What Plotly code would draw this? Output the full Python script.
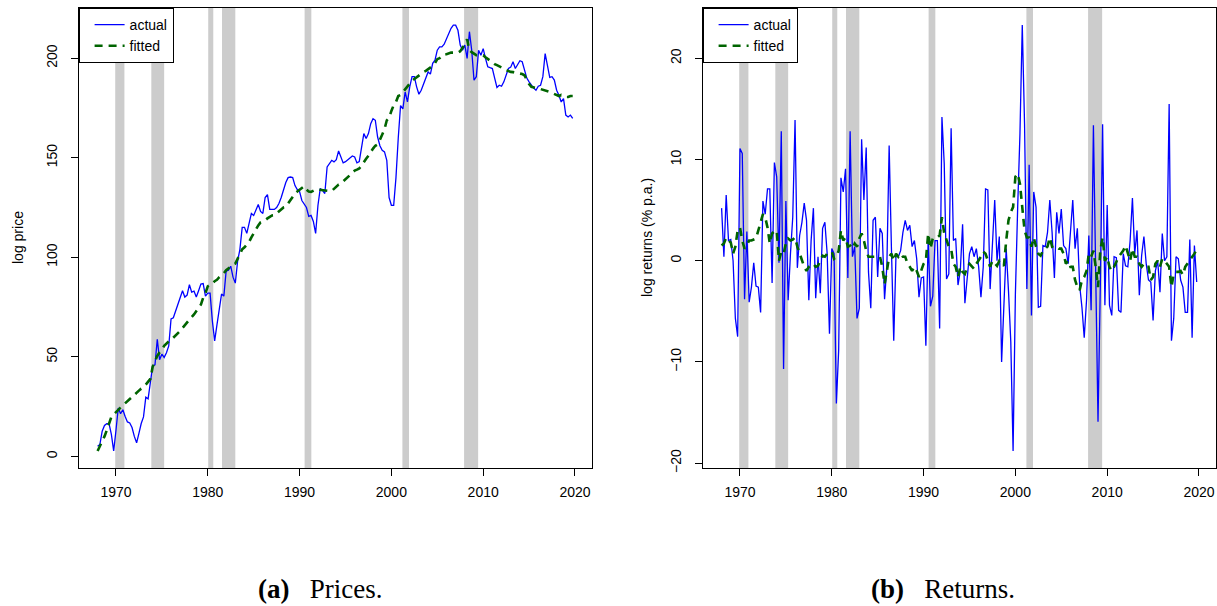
import numpy as np
import plotly.graph_objects as go

# ---------------- data ----------------
start_year = 1968.0
price_actual = [
    5.1, 6.0, 12.6, 15.5,        # 1968
    16.4, 16.3, 11.0, 2.7,       # 1969
    13.0, 24.3, 21.4, 23.4,      # 1970
    20.0, 17.3, 16.8, 14.5,      # 1971
    10.0, 6.8, 11.5, 16.5,       # 1972
    19.8, 29.7, 28.9, 36.4,      # 1973
    45.5, 46.0, 58.8, 48.5,      # 1974
    51.3, 49.7, 52.0, 55.5,      # 1975
    69.0, 69.6, 72.9, 76.0,      # 1976
    79.6, 83.2, 80.0, 81.0,      # 1977
    86.2, 82.5, 83.0, 80.0,      # 1978
    83.2, 86.5, 86.8, 80.5,      # 1979
    82.0, 82.0, 68.0, 58.0,      # 1980
    66.0, 73.0, 81.5, 80.5,      # 1981
    93.0, 93.5, 95.5, 90.0,      # 1982
    87.0, 98.0, 104.0, 115.0,    # 1983
    115.0, 112.0, 117.0, 122.0,  # 1984
    121.0, 124.0, 126.5, 123.0,  # 1985
    122.0, 130.0, 131.5, 124.0,  # 1986
    124.0, 124.0, 125.0, 127.0,  # 1987
    130.0, 134.0, 137.5, 140.0,  # 1988
    140.3, 140.0, 136.0, 134.0,  # 1989
    133.0, 128.5, 127.0, 125.0,  # 1990
    120.5, 121.0, 118.0, 112.0,  # 1991
    126.0, 134.5, 133.6, 132.0,  # 1992
    145.4, 147.0, 148.7, 147.9,  # 1993
    149.0, 153.4, 150.0, 147.4,  # 1994
    148.0, 149.0, 150.0, 150.9,  # 1995
    150.4, 147.4, 148.0, 155.0,  # 1996
    162.1, 159.6, 162.1, 167.1,  # 1997
    169.6, 168.8, 160.4, 156.0,  # 1998
    153.7, 152.9, 148.7, 130.0,  # 1999
    126.1, 126.1, 140.0, 160.0,  # 2000
    176.2, 174.5, 183.0, 178.0,  # 2001
    185.6, 190.7, 190.7, 185.6,  # 2002
    181.9, 183.9, 187.0, 190.0,  # 2003
    193.1, 192.0, 197.4, 199.0,  # 2004
    204.0, 205.7, 205.7, 207.0,  # 2005
    209.9, 212.4, 215.0, 216.6,  # 2006
    216.6, 214.0, 206.6, 204.0,  # 2007
    206.6, 199.9, 213.3, 204.0,  # 2008
    188.9, 190.7, 204.0, 201.5,  # 2009
    204.8, 199.9, 195.7, 195.2,  # 2010
    194.8, 190.0, 185.3, 186.4,  # 2011
    185.9, 188.1, 191.0, 194.8,  # 2012
    195.5, 198.2, 194.8, 196.5,  # 2013
    198.7, 198.2, 194.0, 190.0,  # 2014
    188.1, 186.4, 185.0, 183.9,  # 2015
    185.9, 186.4, 190.7, 202.3,  # 2016
    195.7, 190.3, 190.7, 189.0,  # 2017
    183.9, 181.4, 178.0, 179.7,  # 2018
    171.4, 170.5, 171.4, 169.7,  # 2019
]
price_fitted = [
    2.7, 5.0, 7.3, 10.0,
    13.1, 16.5, 19.8, 21.0,
    22.3, 23.4, 24.5, 25.6,
    26.7, 27.8, 28.9, 30.0,
    31.3, 32.2, 33.0, 34.0,
    34.7, 36.0, 37.5, 38.9,
    45.0, 48.0, 50.5, 52.2,
    53.5, 55.5, 56.8, 57.7,
    58.5, 59.6, 60.5, 62.0,
    63.0, 64.5, 66.0, 67.3,
    68.5, 70.0, 71.3, 73.0,
    74.8, 76.2, 79.6, 82.0,
    85.4, 86.0, 86.7, 88.0,
    88.7, 90.0, 91.0, 92.0,
    93.5, 94.5, 95.5, 96.2,
    96.8, 99.0, 102.0, 104.0,
    105.0, 106.5, 107.7, 110.0,
    112.0, 114.4, 116.0, 117.5,
    118.0, 118.6, 119.5, 120.3,
    121.0, 121.1, 122.0, 123.0,
    124.0, 125.0, 125.3, 127.0,
    129.0, 130.5, 132.0, 133.0,
    134.0, 134.5, 135.7, 134.0,
    133.0, 132.8, 133.5, 134.0,
    134.0, 133.8, 133.6, 133.5,
    133.3, 133.3, 133.3, 134.5,
    135.5, 136.5, 137.0, 138.0,
    139.0, 140.0, 141.2, 142.5,
    143.5, 144.0, 144.6, 146.0,
    148.0, 149.5, 151.0, 153.0,
    154.6, 156.0, 156.7, 159.0,
    162.1, 164.3, 168.8, 170.0,
    173.5, 176.4, 178.0, 181.0,
    181.5, 183.0, 184.4, 186.0,
    187.5, 188.6, 189.5, 190.5,
    191.1, 192.0, 193.0, 193.6,
    194.5, 195.5, 196.1, 197.5,
    199.5, 200.0, 201.0, 202.0,
    202.0, 202.5, 202.8, 202.8,
    202.8, 202.8, 203.5, 205.0,
    207.0, 209.5, 204.0, 203.0,
    202.0, 201.5, 201.5, 201.5,
    201.5, 200.5, 199.5, 199.0,
    198.0, 197.0, 196.5, 196.0,
    195.5, 194.8, 194.0, 193.5,
    193.1, 193.0, 192.8, 192.5,
    192.3, 192.0, 191.4, 189.0,
    187.0, 185.6, 185.2, 185.0,
    184.7, 184.5, 184.2, 183.9,
    183.5, 183.0, 182.5, 182.0,
    181.5, 181.0, 181.5, 181.0,
    180.5, 180.5, 181.0, 181.0,
]
ret_actual = [
    5.2, 0.4, 6.5, 2.0,
    2.1, 0.0, -5.7, -7.5,
    11.1, 10.6, -3.8, 2.9,
    -4.1, -2.6, -0.2, -2.5,
    -2.6, -5.1, 5.9, 4.6,
    7.1, 7.1, -2.2, 9.7,
    8.3, -0.2, 12.8, -10.7,
    5.9, -3.9, 0.7, 4.3,
    13.9, -0.7, 2.5, 3.8,
    5.7, 4.0, -3.9, 2.0,
    5.2, -3.7, 0.4, -3.2,
    3.2, 3.8, 0.7, -7.2,
    1.2, 0.7, -14.1, -8.9,
    8.2, 6.8, 9.1, -1.7,
    12.8, 0.4, 1.4, -5.7,
    -4.7, 12.0, 6.0, 11.2,
    -1.1, -4.7, 4.0, 4.3,
    -1.6, 3.2, 2.7, -3.8,
    -0.6, 11.4, 1.2, -7.9,
    0.7, 0.4, 1.0, 2.8,
    4.0, 3.0, 3.5, 1.4,
    2.0, 0.2, -3.6, -1.7,
    -1.6, -8.4, 2.2, -4.5,
    -3.5, 2.0, 2.0, -6.7,
    14.2, 9.6, -1.8, -1.3,
    13.1, 2.0, 2.2, -2.4,
    -1.0, 3.6, -4.2, -1.9,
    0.7, 1.4, 0.4, 1.2,
    -0.6, -3.6, -0.6, 7.1,
    7.0, -2.8, 2.0, 6.0,
    0.0, 2.4, -10.0, -3.3,
    1.2, -3.0, -8.0, -18.8,
    -3.3, 5.3, 12.6, 23.3,
    13.5, -2.8, 9.5, -5.4,
    6.8, 5.3, -4.6, -4.5,
    1.5, 1.4, 2.8, 6.0,
    2.8, -1.7, 4.8, 2.7,
    5.1, 1.5, 1.2, -0.3,
    2.7, 6.0, 1.2, 3.2,
    -2.4, -4.6, -7.6, -3.9,
    2.5, -4.9, 13.4, -2.6,
    -15.9, -2.6, 13.5, -4.4,
    5.5, -4.4, -5.4, 0.4,
    0.3, -4.9, -5.1, 0.7,
    -0.5, -0.6, 2.0, 6.2,
    0.7, 3.0, -3.4, 0.5,
    2.4, -0.3, -1.9, -2.1,
    -5.9, -1.0, 0.0, -3.1,
    2.7, 0.0, 0.4, 15.5,
    -7.9, -5.7, 0.4, 0.2,
    -1.9, -2.6, -5.1, -5.1,
    2.1, -7.6, 1.5, -2.1,
]
ret_fitted = [
    1.5, 1.7, 2.3, 2.0,
    1.8, 0.7, 1.4, 3.0,
    3.3, 2.0, 1.2, 1.5,
    2.0, 2.0, 2.1, 2.2,
    3.0, 3.8, 4.6, 4.3,
    3.3, 1.7, 2.7, 2.9,
    3.0, 0.0, 0.9, 0.7,
    1.7, 2.2, 2.0, 2.1,
    2.3, 1.4, 0.7, 0.0,
    -0.6, -1.0, -0.6, -0.4,
    -0.3, -0.6, -0.5, 0.0,
    0.5, 0.4, 0.7, 0.8,
    0.9, 0.2, 0.4, 1.0,
    3.0, 2.0, 2.3, 1.4,
    1.5, 1.2, 1.7, 1.4,
    2.2, 2.7, 2.0, 1.0,
    0.4, 0.4, 0.4, 0.4,
    0.4, 0.4, -0.6, -2.3,
    -1.0, 0.4, 0.7, 0.0,
    0.7, 0.4, 0.7, 0.4,
    0.4, -0.3, -0.6, -1.0,
    -0.6, -1.0, -1.6, -1.0,
    -0.3, 0.0, 2.7, 1.2,
    2.2, 2.3, 2.3, 2.5,
    4.3, 2.7, 2.0, 1.4,
    1.2, -0.3, -0.6, -1.6,
    -0.6, -1.1, -1.3, -0.6,
    -0.3, -0.6, -0.8, -0.3,
    0.0, 0.4, 0.9, 0.7,
    0.0, -0.6, 0.0, -0.3,
    -0.5, 0.0, -0.3, -0.5,
    2.0, 4.0, 4.8, 5.3,
    8.3, 8.6, 7.6, 5.3,
    3.0, 2.3, 2.3, 1.4,
    2.3, 1.4, 0.7, 0.5,
    1.0, 1.2, 1.4, 2.3,
    1.4, 1.5, 1.4, 1.2,
    1.2, 0.7, -0.3, 0.0,
    -0.6, -0.6, -1.9, -2.6,
    -2.9, -1.9, -1.6, -1.0,
    0.7, 0.4, 1.0, -0.6,
    -2.6, 1.0, 2.3, 0.0,
    0.4, -0.6, -1.0, -0.6,
    0.0, 0.4, 0.7, 1.0,
    1.5, 0.7, 0.0, 1.2,
    0.4, 0.4, -0.3, -0.6,
    -0.3, -0.6, -0.6, -1.9,
    -1.6, -0.3, 0.0, -0.6,
    0.2, 0.0, -0.3, -0.6,
    -2.6, -1.3, -1.1, -1.1,
    -1.0, -1.4, -0.6, -0.3,
    0.0, 0.4, 0.7, 1.1,
]
recession_start = [1969.92, 1973.85, 1980.05, 1981.55, 1990.55, 2001.2, 2007.92]
recession_end = [1970.92, 1975.25, 1980.6, 1983.0, 1991.28, 2001.92, 2009.45]
x_ticks = [1970, 1980, 1990, 2000, 2010, 2020]
price_ticks = [0, 50, 100, 150, 200]
ret_ticks = [-20, -10, 0, 10, 20]

dates = start_year + 0.25 * np.arange(len(price_actual))
dates_r = start_year + 0.25 * np.arange(len(ret_actual))

# ---------------- figure ----------------
W, H = 1217, 606
box_top, box_bot = 8, 468
ydom = [(H - box_bot) / H, (H - box_top) / H]
xdom1 = [78.6 / W, 591.7 / W]
xdom2 = [702.6 / W, 1215.7 / W]

BLUE = "#0000FF"
GREEN = "#006400"
SANS = "Liberation Sans, Arial, sans-serif"
SERIF = "Liberation Serif, Times New Roman, serif"

fig = go.Figure()
fig.add_trace(go.Scatter(x=dates, y=price_actual, mode="lines", name="actual",
                         line=dict(color=BLUE, width=1.3), xaxis="x", yaxis="y",
                         legend="legend"))
fig.add_trace(go.Scatter(x=dates, y=price_fitted, mode="lines", name="fitted",
                         line=dict(color=GREEN, width=2.6, dash="8px,6px"),
                         xaxis="x", yaxis="y", legend="legend"))
fig.add_trace(go.Scatter(x=dates_r, y=ret_actual, mode="lines", name="actual",
                         line=dict(color=BLUE, width=1.3), xaxis="x2", yaxis="y2",
                         legend="legend2"))
fig.add_trace(go.Scatter(x=dates_r, y=ret_fitted, mode="lines", name="fitted",
                         line=dict(color=GREEN, width=2.6, dash="8px,6px"),
                         xaxis="x2", yaxis="y2", legend="legend2"))

shapes = []
for xr, yr in (("x", "y domain"), ("x2", "y2 domain")):
    for s, e in zip(recession_start, recession_end):
        shapes.append(dict(type="rect", xref=xr, yref=yr, x0=s, x1=e, y0=0, y1=1,
                           fillcolor="#CCCCCC", line=dict(width=0), layer="below"))

axis_common = dict(showgrid=False, zeroline=False, showline=True, mirror=True,
                   linecolor="black", linewidth=1, ticks="outside", ticklen=7,
                   tickcolor="black", tickwidth=1, automargin=False,
                   tickfont=dict(family=SANS, size=14, color="black"))

x_range = [1965.93, 2021.82]

legend_common = dict(xanchor="left", yanchor="top", y=ydom[1],
                     bordercolor="black", borderwidth=1, bgcolor="white",
                     font=dict(family=SANS, size=14, color="black"),
                     itemwidth=30, tracegroupgap=0, indentation=10,
                     entrywidth=64)

fig.update_layout(
    width=W, height=H,
    margin=dict(l=0, r=0, t=0, b=0, autoexpand=False),
    paper_bgcolor="white", plot_bgcolor="white",
    shapes=shapes,
    xaxis=dict(domain=xdom1, range=x_range, tickvals=x_ticks, anchor="y",
               ticklabelstandoff=4, **axis_common),
    yaxis=dict(domain=ydom, range=[-5.86, 225.2], tickvals=price_ticks, anchor="x",
               tickangle=-90, ticklabelstandoff=8, **axis_common),
    xaxis2=dict(domain=xdom2, range=x_range, tickvals=x_ticks, anchor="y2",
                ticklabelstandoff=4, **axis_common),
    yaxis2=dict(domain=ydom, range=[-20.48, 24.98], tickvals=ret_ticks, anchor="x2",
                tickangle=-90, ticklabelstandoff=8, **axis_common),
    legend=dict(x=xdom1[0], **legend_common),
    legend2=dict(x=xdom2[0], **legend_common),
    showlegend=True,
)

annotations = [
    dict(text="log price", x=18 / W, y=(H - 238) / H, xref="paper", yref="paper",
         xanchor="center", yanchor="middle",
         textangle=-90, showarrow=False, font=dict(family=SANS, size=14, color="black")),
    dict(text="log returns (% p.a.)", x=647 / W, y=(H - 238) / H, xref="paper",
         yref="paper", xanchor="center", yanchor="middle", textangle=-90,
         showarrow=False, font=dict(family=SANS, size=14, color="black")),
    dict(text="<b>(a)</b>   Prices.", x=319.5 / W, y=(H - 589) / H, xref="paper",
         yref="paper", xanchor="center", yanchor="middle", showarrow=False,
         font=dict(family=SERIF, size=27, color="black")),
    dict(text="<b>(b)</b>   Returns.", x=943 / W, y=(H - 589) / H, xref="paper",
         yref="paper", xanchor="center", yanchor="middle", showarrow=False,
         font=dict(family=SERIF, size=27, color="black")),
]
fig.update_layout(annotations=annotations)

fig.write_html("out.html",
               config={"displayModeBar": False},
               post_script="document.body.style.margin='0px';"
                           "document.body.style.overflow='hidden';")
